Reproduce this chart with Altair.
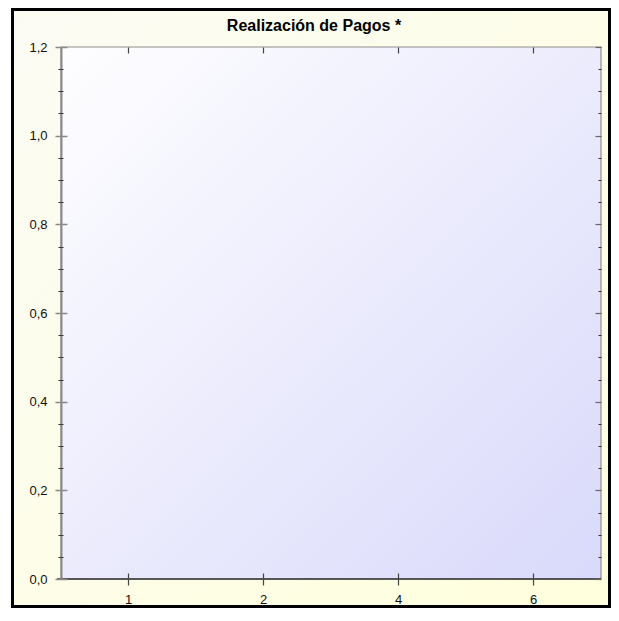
import altair as alt
import pandas as pd

# ---- data ----
categories = ["1", "2", "4", "6"]
values = [0, 0, 0, 0]
y_major = [0.0, 0.2, 0.4, 0.6, 0.8, 1.0, 1.2]
y_minor = [0.05, 0.10, 0.15, 0.25, 0.30, 0.35, 0.45, 0.50, 0.55,
           0.65, 0.70, 0.75, 0.85, 0.90, 0.95, 1.05, 1.10, 1.15]
title_text = "Realización de Pagos *"

W, H = 540, 532
FONT = "Liberation Sans"
LFONT = "Liberation Sans"

df = pd.DataFrame({"cat": categories, "val": values})

xscale = alt.Scale(type="band", domain=categories, paddingInner=0, paddingOuter=0)
yscale = alt.Scale(domain=[0, 1.2], nice=False, zero=True)


def ax(**kw):
    base = dict(title=None, zindex=1, grid=False)
    base.update(kw)
    return alt.Axis(**base)


def layer(xaxis, yaxis):
    return alt.Chart(df).mark_bar(opacity=0).encode(
        x=alt.X("cat:O", scale=xscale, axis=xaxis),
        y=alt.Y("val:Q", scale=yscale, axis=yaxis),
    )


outer_grad = alt.LinearGradient(
    gradient="linear", x1=0, y1=0, x2=1, y2=1,
    stops=[alt.GradientStop(color="#fbfbf4", offset=0),
           alt.GradientStop(color="#ffffdd", offset=1)],
)
plot_grad = alt.LinearGradient(
    gradient="linear", x1=0, y1=0, x2=1, y2=1,
    stops=[alt.GradientStop(color="#fefeff", offset=0),
           alt.GradientStop(color="#d9d9fb", offset=1)],
)

one = alt.Data(values=[{}])
outer_bg = alt.Chart(one).mark_rect(fill=outer_grad, stroke="black", strokeWidth=3).encode(
    x=alt.value(-48.5), x2=alt.value(548.5), y=alt.value(-37.5), y2=alt.value(559.5)
)
plot_bg = alt.Chart(one).mark_rect(fill=plot_grad, stroke="#8f8f8f", strokeWidth=1.2).encode(
    x=alt.value(0), x2=alt.value(W), y=alt.value(0), y2=alt.value(H)
)
x_line = alt.Chart(one).mark_rule(color="#333333", strokeWidth=1.6).encode(
    x=alt.value(-4), x2=alt.value(W), y=alt.value(H)
)

label_expr = "replace(format(datum.value, '.1f'), '.', ',')"

# y axes
y_left_main = ax(orient="left", values=y_major, tickSize=6, tickColor="#8a8a8a", tickWidth=1.5,
                 domain=True, domainColor="#8a8a8a", domainWidth=2,
                 labelExpr=label_expr, labelFont=LFONT, labelFontSize=13, labelColor="#111111",
                 labelPadding=8)
y_left_major_in = ax(orient="left", offset=-6, values=y_major, tickSize=6, tickColor="#8a8a8a",
                     tickWidth=1.5, domain=False, labels=False)
y_left_minor = ax(orient="left", values=y_minor, tickSize=3, tickColor="#333333", tickWidth=1,
                  domain=False, labels=False)
y_left_minor_in = ax(orient="left", offset=-2, values=y_minor, tickSize=2, tickColor="#333333",
                     tickWidth=1, domain=False, labels=False)
y_right_major = ax(orient="right", offset=-6, values=y_major, tickSize=6, tickColor="#666666",
                   tickWidth=1.2, domain=False, labels=False)
y_right_minor = ax(orient="right", offset=-3, values=y_minor, tickSize=3, tickColor="#333333",
                   tickWidth=1, domain=False, labels=False)

# x axes
x_bottom_main = ax(orient="bottom", tickSize=6, tickColor="#444444", tickWidth=1.2, domain=False,
                   labelAngle=0, labelFont=LFONT, labelFontSize=13, labelColor="#111111",
                   labelPadding=8)
x_bottom_in = ax(orient="bottom", offset=-6, tickSize=6, tickColor="#444444", tickWidth=1.2,
                 domain=False, labels=False)
x_top_in = ax(orient="top", offset=-6, tickSize=6, tickColor="#444444", tickWidth=1.2,
              domain=False, labels=False)

layers = [
    outer_bg,
    plot_bg,
    layer(x_bottom_main, y_left_main),
    layer(x_bottom_in, y_left_major_in),
    layer(x_top_in, y_left_minor),
    layer(None, y_left_minor_in),
    layer(None, y_right_major),
    layer(None, y_right_minor),
    x_line,
]

chart = alt.layer(*layers).resolve_scale(x="shared", y="shared").resolve_axis(
    x="independent", y="independent"
).properties(
    width=W,
    height=H,
    autosize=alt.AutoSizeParams(type="none"),
    padding={"left": 53, "top": 39, "right": 10, "bottom": 29},
    background="white",
    title=alt.Title(title_text, font=FONT, fontSize=16, fontWeight="bold", color="black",
                    anchor="middle", baseline="alphabetic", offset=0, dy=39, dx=-17),
).configure_view(strokeWidth=0)

chart.save("out.html", embed_options={"renderer": "svg", "actions": False})
